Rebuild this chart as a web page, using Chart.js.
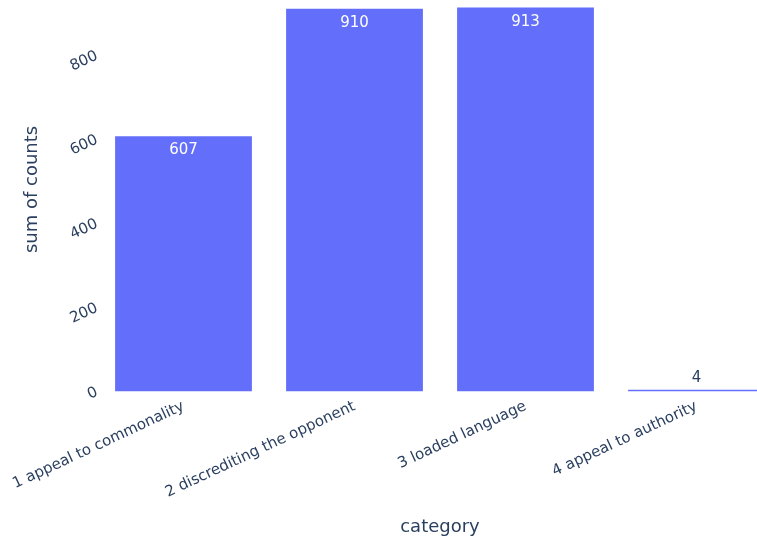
<!DOCTYPE html>
<html>
<head>
<meta charset="utf-8">
<script src="https://cdn.jsdelivr.net/npm/chart.js@4.4.0/dist/chart.umd.min.js"></script>
<style>
	html, body { margin: 0; padding: 0; background: #fff; overflow: hidden; width: 757px; height: 541px; }
	#wrap { position: absolute; left: 0; top: -20px; width: 800px; height: 561px; }
</style>
</head>
<body>
<div id="wrap"><canvas id="bar-chart-categories"></canvas></div>
<script>
"use strict";

const categories = ["1 appeal to commonality", "2 discrediting the opponent", "3 loaded language", "4 appeal to authority"];
const counts = [607, 910, 913, 4];
const yTicks = [0, 200, 400, 600, 800];

const textColor = "#2a3f5f";
const barColor = "#636efa";
const fontFamily = "'DejaVu Sans', sans-serif";

// value labels: inside the bar top when there is room, otherwise just above it
const barValueLabels = {
	id: "barValueLabels",
	afterDatasetsDraw(chart) {
		const ctx = chart.ctx;
		const meta = chart.getDatasetMeta(0);
		ctx.save();
		ctx.font = "15px " + fontFamily;
		ctx.textAlign = "center";
		ctx.textBaseline = "alphabetic";
		meta.data.forEach((bar, i) => {
			const height = bar.base - bar.y;
			if (height > 30) {
				ctx.fillStyle = "#ffffff";
				ctx.fillText(String(counts[i]), bar.x, bar.y + 18);
			} else {
				ctx.fillStyle = textColor;
				ctx.fillText(String(counts[i]), bar.x, bar.y - 8);
			}
		});
		ctx.restore();
	}
};

displayBarChartCategories(categories, counts);

function displayBarChartCategories(labels, values) {
	const ctx = document.querySelector("#bar-chart-categories").getContext("2d");
	new Chart(ctx, {
		type: "bar",
		data: {
			labels: labels,
			datasets: [{
				data: values,
				backgroundColor: barColor,
				borderWidth: 0,
				barPercentage: 0.8,
				categoryPercentage: 1
			}]
		},
		options: {
			responsive: true,
			maintainAspectRatio: false,
			animation: false,
			events: [],
			layout: { padding: { left: 0, right: 18, top: 7.4, bottom: 0 } },
			plugins: {
				legend: { display: false },
				tooltip: { enabled: false }
			},
			scales: {
				x: {
					grid: { display: false, drawTicks: false },
					border: { display: false },
					ticks: {
						autoSkip: false,
						minRotation: 25,
						maxRotation: 25,
						padding: 6,
						color: textColor,
						font: { family: fontFamily, size: 15 }
					},
					title: {
						display: true,
						text: "category",
						color: textColor,
						font: { family: fontFamily, size: 18 },
						padding: { top: 0, bottom: 2.7 }
					},
					afterFit(scale) {
						scale.height = 149.5;
						// long rotated labels may spill left, keep the plot width fixed
						scale.paddingLeft = 0;
						scale.paddingRight = 0;
					}
				},
				y: {
					min: 0,
					max: 961,
					grid: { display: false, drawTicks: false },
					border: { display: false },
					afterBuildTicks(scale) { scale.ticks = yTicks.map(v => ({ value: v })); },
					ticks: {
						minRotation: 25,
						maxRotation: 25,
						padding: 1,
						color: textColor,
						font: { family: fontFamily, size: 15 }
					},
					title: {
						display: true,
						text: "sum of counts",
						color: textColor,
						font: { family: fontFamily, size: 18 },
						padding: { top: 21.4, bottom: 0 }
					},
					afterFit(scale) {
						scale.width = 98;
						// the rotated labels sit well inside the plot, no extra room needed
						scale.paddingTop = 0;
						scale.paddingBottom = 0;
					}
				}
			}
		},
		plugins: [barValueLabels]
	});
}
</script>
</body>
</html>
